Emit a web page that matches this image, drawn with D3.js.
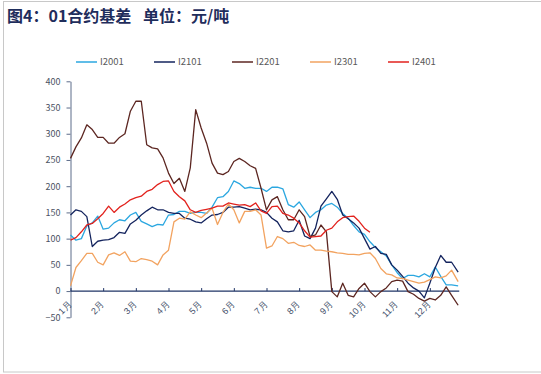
<!DOCTYPE html>
<html>
<head>
<meta charset="utf-8">
<script src="https://cdn.jsdelivr.net/npm/d3@7"></script>
<style>
  body { margin: 0; background: #fff; }
  svg { display: block; font-family: "Noto Sans CJK SC", "Noto Sans", sans-serif; }
</style>
</head>
<body>
<svg id="viz"></svg>
<script>
// sample days (day of year, every 5 days)
const days = [0, 5, 10, 15, 20, 25, 30, 35, 40, 45, 50, 55, 60, 65, 70, 75, 80, 85,
  90, 95, 100, 105, 110, 115, 120, 125, 130, 135, 140, 145, 150, 155, 160, 165, 170, 175,
  180, 185, 190, 195, 200, 205, 210, 215, 220, 225, 230, 235, 240, 245, 250, 255, 260, 265,
  270, 275, 280, 285, 290, 295, 300, 305, 310, 315, 320, 325, 330, 335, 340, 345, 350, 356];

const monthDays = [0, 30, 60, 90, 120, 150, 180, 210, 240, 270, 300, 330];
const monthLabels = ["1月", "2月", "3月", "4月", "5月", "6月", "7月", "8月", "9月", "10月", "11月", "12月"];
const yTicks = [-50, 0, 50, 100, 150, 200, 250, 300, 350, 400];

const seriesNames = ["I2001", "I2101", "I2201", "I2301", "I2401"];

const i2001 = [107, 97, 100, 124, 130, 143, 118, 120, 130, 136, 134, 145, 150, 133, 128, 123, 127, 126,
  145, 146, 152, 152, 148, 150, 150, 148, 160, 178, 180, 190, 210, 205, 196, 198, 196, 196,
  190, 198, 198, 195, 165, 160, 170, 155, 140, 150, 155, 164, 167, 160, 148, 139, 125, 113,
  108, 94, 83, 75, 67, 50, 35, 24, 30, 30, 27, 33, 27, 46, 28, 12, 12, 10];

const i2101 = [145, 155, 152, 142, 85, 95, 97, 98, 102, 112, 110, 128, 135, 145, 153, 160, 155, 155,
  150, 148, 148, 139, 137, 132, 130, 138, 145, 146, 150, 160, 160, 161, 158, 155, 156, 155,
  150, 139, 132, 115, 113, 115, 135, 105, 100, 120, 162, 176, 190, 175, 145, 138, 130, 120,
  100, 80, 85, 72, 70, 50, 40, 28, 15, 6, 0, -13, 15, 45, 68, 55, 55, 36];

const i2201 = [253, 275, 292, 317, 308, 293, 293, 282, 282, 293, 300, 343, 362, 362, 279, 273, 271, 254,
  225, 205, 215, 190, 235, 346, 311, 282, 244, 225, 222, 228, 247, 253, 247, 239, 234, 196,
  155, 174, 180, 155, 136, 136, 155, 142, 104, 107, 126, 113, -1, -11, 15, -8, -11, 5,
  15, -1, -11, -1, 6, 18, 21, 19, -1, -6, -14, -19, -14, -17, -8, 8, -8, -27];

const i2301 = [10, 45, 58, 72, 72, 55, 50, 69, 73, 68, 75, 57, 56, 62, 60, 57, 50, 69,
  78, 132, 139, 137, 151, 145, 140, 149, 158, 127, 150, 166, 155, 130, 152, 152, 155, 145,
  82, 86, 104, 100, 91, 93, 87, 85, 88, 78, 78, 76, 75, 73, 72, 70, 70, 69,
  72, 73, 62, 43, 33, 31, 25, 24, 21, 18, 15, 17, 22, 27, 25, 29, 40, 18];

// I2401 stops in early October
const i2401 = [97, 102, 113, 126, 129, 138, 148, 162, 150, 160, 166, 174, 178, 181, 190, 194, 203, 209,
  210, 190, 180, 172, 155, 150, 154, 156, 158, 162, 162, 168, 166, 164, 165, 161, 168, 153,
  148, 161, 162, 148, 145, 139, 130, 115, 103, 104, 105, 116, 120, 132, 140, 142, 143, 133,
  120, 112];

const seriesValues = [i2001, i2101, i2201, i2301, i2401];
const colors = ["#2ba7e0", "#14245e", "#5c2621", "#f2a360", "#e2221d"];

const width = 541;
const height = 374;

const svg = d3.select("#viz").attr("width", width).attr("height", height);

// outer frame
svg.append("rect")
  .attr("x", 3.5)
  .attr("y", 1.5)
  .attr("width", 540)
  .attr("height", 370.5)
  .attr("fill", "none")
  .attr("stroke", "#c8c8c8");

// title
svg.append("text")
  .attr("x", 7)
  .attr("y", 22)
  .attr("font-size", 16)
  .attr("font-weight", "bold")
  .attr("fill", "#1f2d5c")
  .text("图4：01合约基差");
svg.append("text")
  .attr("x", 143)
  .attr("y", 22)
  .attr("font-size", 16)
  .attr("font-weight", "bold")
  .attr("fill", "#1f2d5c")
  .text("单位：元/吨");

// scales
const x = d3.scaleLinear().domain([0, 360]).range([70.5, 462.5]);
const y = d3.scaleLinear().domain([-50, 400]).range([317.3, 81.3]);

// y axis
const yAxis = svg.append("g")
  .attr("transform", "translate(70.5,0)")
  .call(d3.axisLeft(y).tickValues(yTicks).tickSize(4).tickSizeOuter(0).tickPadding(6));
yAxis.select(".domain").attr("stroke", "#5d6c8a");
yAxis.selectAll(".tick line").attr("stroke", "#5d6c8a");
yAxis.selectAll("text")
  .attr("font-size", 9)
  .attr("fill", "#4a5264")
  .attr("font-family", "\"Noto Sans CJK SC\", sans-serif");

// x axis along zero line, ticks pointing up
const xAxis = svg.append("g")
  .attr("transform", `translate(0,${y(0)})`)
  .call(d3.axisBottom(x).tickValues(monthDays).tickSize(-3).tickSizeOuter(0).tickFormat((d, i) => monthLabels[i]));
xAxis.select(".domain")
  .attr("d", `M${x(0)},0H${x(357)}`)
  .attr("stroke", "#1f3466")
  .attr("stroke-width", 1.2);
xAxis.selectAll(".tick line").attr("stroke", "#1f3466");
xAxis.selectAll("text")
  .attr("y", 0)
  .attr("dy", 0)
  .attr("transform", "translate(1,14) rotate(-45)")
  .style("text-anchor", "end")
  .attr("font-size", 9)
  .attr("fill", "#44506a");

// lines
const line = d3.line()
  .x((d, i) => x(days[i]))
  .y((d) => y(d));

seriesValues.forEach((vals, k) => {
  svg.append("path")
    .datum(vals)
    .attr("fill", "none")
    .attr("stroke", colors[k])
    .attr("stroke-width", 1.3)
    .attr("stroke-linejoin", "round")
    .attr("d", line);
});

// legend
const legend = svg.append("g").attr("transform", "translate(76,62)");
seriesNames.forEach((name, k) => {
  const g = legend.append("g").attr("transform", `translate(${k * 78},0)`);
  g.append("line")
    .attr("x1", 0)
    .attr("x2", 21)
    .attr("stroke", colors[k])
    .attr("stroke-opacity", 0.75)
    .attr("stroke-width", 2);
  g.append("text")
    .attr("x", 24)
    .attr("dy", "0.35em")
    .attr("font-size", 9.5)
    .attr("fill", "#595959")
    .text(name);
});
</script>
</body>
</html>
